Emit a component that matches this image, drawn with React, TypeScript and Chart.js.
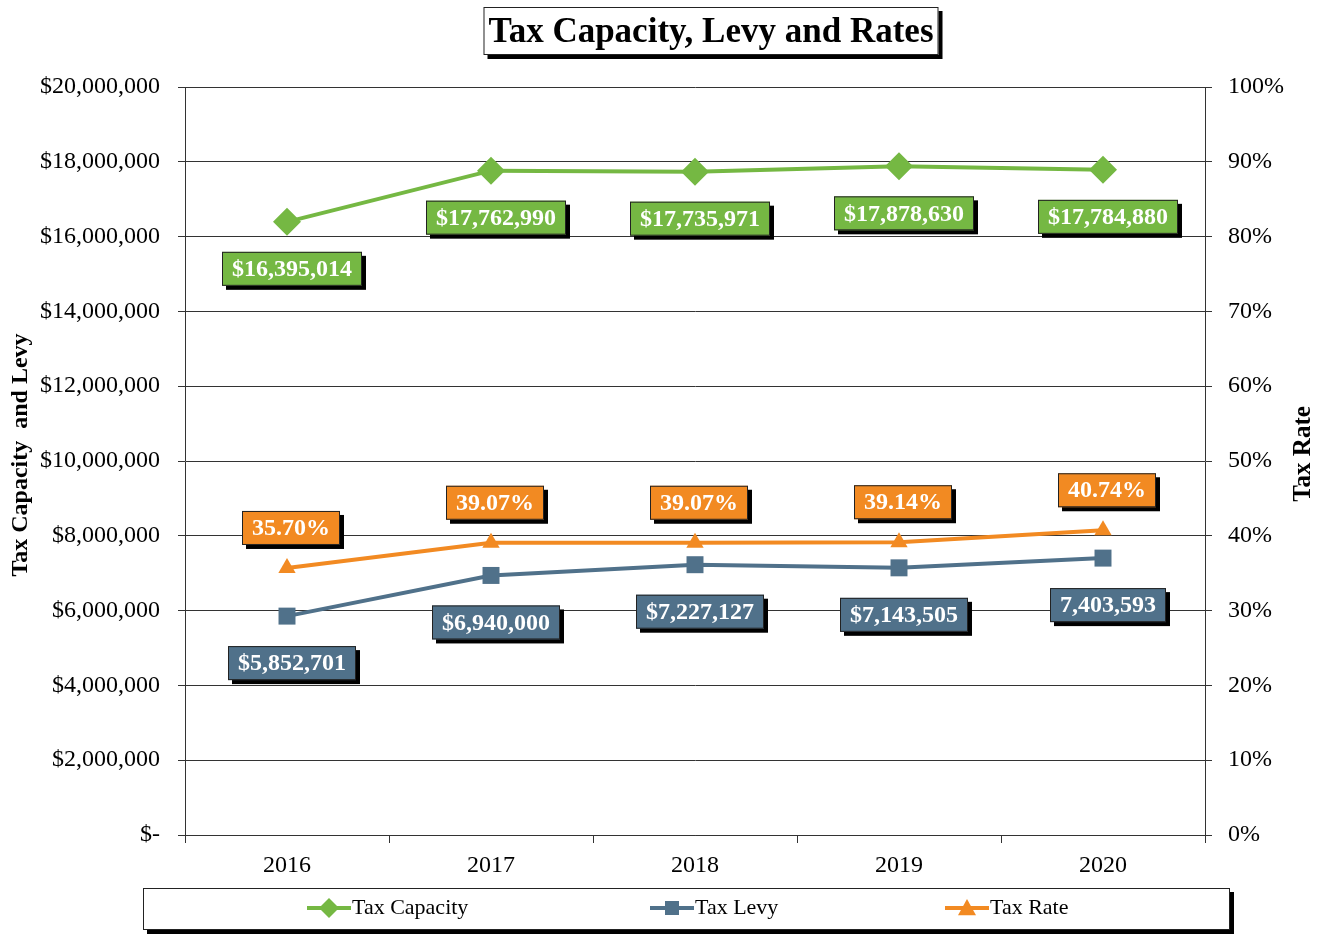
import React, { useEffect, useRef } from "react";
import { Chart, registerables } from "chart.js";

Chart.register(...registerables);

const years = ["2016", "2017", "2018", "2019", "2020"];
const taxCapacity = [16395014, 17762990, 17735971, 17878630, 17784880];
const taxLevy = [5852701, 6940000, 7227127, 7143505, 7403593];
const taxRate = [35.7, 39.07, 39.07, 39.14, 40.74];
const capacityLabels = ["$16,395,014", "$17,762,990", "$17,735,971", "$17,878,630", "$17,784,880"];
const levyLabels = ["$5,852,701", "$6,940,000", "$7,227,127", "$7,143,505", "7,403,593"];
const rateLabels = ["35.70%", "39.07%", "39.07%", "39.14%", "40.74%"];
const leftTicks = [0, 2000000, 4000000, 6000000, 8000000, 10000000, 12000000, 14000000, 16000000, 18000000, 20000000];

const GREEN = "#75B843";
const SLATE = "#50718A";
const ORANGE = "#F28A22";
const SERIF = "'Liberation Serif', 'Times New Roman', serif";

function drawShadowBox(ctx: CanvasRenderingContext2D, x: number, y: number, w: number, h: number, fill: string, shadow = 4) {
  ctx.save();
  ctx.fillStyle = "#000";
  ctx.fillRect(x + shadow, y + shadow, w, h);
  ctx.fillStyle = fill;
  ctx.fillRect(x, y, w, h);
  ctx.strokeStyle = "#222";
  ctx.lineWidth = 1;
  ctx.strokeRect(x + 0.5, y + 0.5, w - 1, h - 1);
  ctx.restore();
}

function drawMarker(ctx: CanvasRenderingContext2D, style: string, x: number, y: number, r: number, color: string) {
  ctx.save();
  ctx.fillStyle = color;
  ctx.beginPath();
  if (style === "rectRot") {
    ctx.moveTo(x, y - r);
    ctx.lineTo(x + r, y);
    ctx.lineTo(x, y + r);
    ctx.lineTo(x - r, y);
  } else if (style === "rect") {
    ctx.rect(x - r, y - r, 2 * r, 2 * r);
  } else {
    ctx.moveTo(x, y - r);
    ctx.lineTo(x + r, y + r * 0.8);
    ctx.lineTo(x - r, y + r * 0.8);
  }
  ctx.closePath();
  ctx.fill();
  ctx.restore();
}

const decorPlugin = {
  id: "decor",
  afterDraw(chart: any) {
    const ctx: CanvasRenderingContext2D = chart.ctx;
    // Title
    ctx.save();
    ctx.font = `bold 35px ${SERIF}`;
    const title = "Tax Capacity, Levy and Rates";
    const tw = ctx.measureText(title).width;
    const tcx = 711;
    const bw = tw + 10;
    drawShadowBox(ctx, tcx - bw / 2, 7, bw, 48, "#fff", 4);
    ctx.fillStyle = "#000";
    ctx.textAlign = "center";
    ctx.textBaseline = "middle";
    ctx.fillText(title, tcx, 33);
    ctx.restore();

    // Axis titles
    ctx.save();
    ctx.font = `bold 24px ${SERIF}`;
    ctx.fillStyle = "#000";
    ctx.textAlign = "center";
    ctx.textBaseline = "middle";
    ctx.translate(21, 455);
    ctx.rotate(-Math.PI / 2);
    ctx.fillText("Tax Capacity  and Levy", 0, 0);
    ctx.restore();
    ctx.save();
    ctx.font = `bold 25px ${SERIF}`;
    ctx.fillStyle = "#000";
    ctx.textAlign = "center";
    ctx.textBaseline = "middle";
    ctx.translate(1304, 454);
    ctx.rotate(-Math.PI / 2);
    ctx.fillText("Tax Rate", 0, 0);
    ctx.restore();

    // Legend
    drawShadowBox(ctx, 143, 888, 1087, 42, "#fff", 4);
    const items = [
      { text: "Tax Capacity", color: GREEN, style: "rectRot", x: 307, r: 10 },
      { text: "Tax Levy", color: SLATE, style: "rect", x: 650, r: 7 },
      { text: "Tax Rate", color: ORANGE, style: "triangle", x: 945, r: 9 },
    ];
    const ly = 908;
    items.forEach((it) => {
      ctx.save();
      ctx.strokeStyle = it.color;
      ctx.lineWidth = 4;
      ctx.beginPath();
      ctx.moveTo(it.x, ly);
      ctx.lineTo(it.x + 44, ly);
      ctx.stroke();
      drawMarker(ctx, it.style, it.x + 22, ly, it.r, it.color);
      ctx.font = `22px ${SERIF}`;
      ctx.fillStyle = "#000";
      ctx.textAlign = "left";
      ctx.textBaseline = "middle";
      ctx.fillText(it.text, it.x + 45, ly);
      ctx.restore();
    });
  },
  afterDatasetsDraw(chart: any) {
    const ctx: CanvasRenderingContext2D = chart.ctx;
    const specs = [
      { idx: 0, labels: capacityLabels, color: GREEN, dy: 47, dx: 5 },
      { idx: 1, labels: levyLabels, color: SLATE, dy: 47, dx: 5 },
      { idx: 2, labels: rateLabels, color: ORANGE, dy: -40, dx: 4 },
    ];
    specs.forEach((s) => {
      const meta = chart.getDatasetMeta(s.idx);
      meta.data.forEach((pt: any, i: number) => {
        const txt = s.labels[i];
        ctx.save();
        ctx.font = `bold 24px ${SERIF}`;
        const w = ctx.measureText(txt).width + 20;
        const h = 34;
        const cx = pt.x + s.dx;
        const cy = pt.y + s.dy;
        drawShadowBox(ctx, cx - w / 2, cy - h / 2, w, h, s.color, 4);
        ctx.fillStyle = "#fff";
        ctx.textAlign = "center";
        ctx.textBaseline = "middle";
        ctx.fillText(txt, cx, cy + 1);
        ctx.restore();
      });
    });
  },
};

export default function App() {
  const ref = useRef<HTMLCanvasElement>(null);
  useEffect(() => {
    document.body.style.margin = "0";
    const canvas = ref.current!;
    const chart = new Chart(canvas, {
      type: "line",
      data: {
        labels: years,
        datasets: [
          {
            label: "Tax Capacity",
            data: taxCapacity,
            borderColor: GREEN,
            backgroundColor: GREEN,
            borderWidth: 4,
            pointStyle: "rectRot",
            pointRadius: 14,
            pointBorderWidth: 0,
            yAxisID: "y",
          },
          {
            label: "Tax Levy",
            data: taxLevy,
            borderColor: SLATE,
            backgroundColor: SLATE,
            borderWidth: 4,
            pointStyle: "rect",
            pointRadius: 12,
            pointBorderWidth: 0,
            yAxisID: "y",
          },
          {
            label: "Tax Rate",
            data: taxRate,
            borderColor: ORANGE,
            backgroundColor: ORANGE,
            borderWidth: 4,
            pointStyle: "triangle",
            pointRadius: 10,
            pointBorderWidth: 0,
            yAxisID: "y1",
          },
        ],
      },
      options: {
        responsive: false,
        devicePixelRatio: 1,
        animation: false,
        layout: { padding: { top: 87, bottom: 50, left: 0, right: 0 } },
        plugins: {
          legend: { display: false },
          title: { display: false },
          tooltip: { enabled: false },
        },
        scales: {
          x: {
            offset: true,
            grid: { offset: true, drawOnChartArea: false, drawTicks: true, tickLength: 8, color: "#333" },
            border: { color: "#333", width: 1 },
            ticks: { color: "#000", font: { family: SERIF, size: 24 }, padding: 8 },
            afterFit: (s: any) => {
              s.height = 50;
            },
          },
          y: {
            position: "left",
            min: 0,
            max: 20000000,
            afterBuildTicks: (s: any) => {
              s.ticks = leftTicks.map((v) => ({ value: v }));
            },
            grid: { color: "#333", tickLength: 7 },
            border: { color: "#333", width: 1 },
            ticks: {
              color: "#000",
              font: { family: SERIF, size: 24 },
              padding: 18,
              callback: (v: any) => (Number(v) === 0 ? "$-" : "$" + Number(v).toLocaleString("en-US")),
            },
            afterFit: (s: any) => {
              s.width = 185;
            },
          },
          y1: {
            position: "right",
            min: 0,
            max: 100,
            ticks: {
              stepSize: 10,
              color: "#000",
              font: { family: SERIF, size: 24 },
              padding: 16,
              callback: (v: any) => v + "%",
            },
            grid: { drawOnChartArea: false, tickLength: 7, color: "#333" },
            border: { color: "#333", width: 1 },
            afterFit: (s: any) => {
              s.width = 120;
            },
          },
        },
      },
      plugins: [decorPlugin],
    } as any);
    return () => chart.destroy();
  }, []);
  return (
    <div style={{ width: 1325, height: 935, background: "#fff" }}>
      <canvas ref={ref} width={1325} height={935} style={{ display: "block" }} />
    </div>
  );
}
